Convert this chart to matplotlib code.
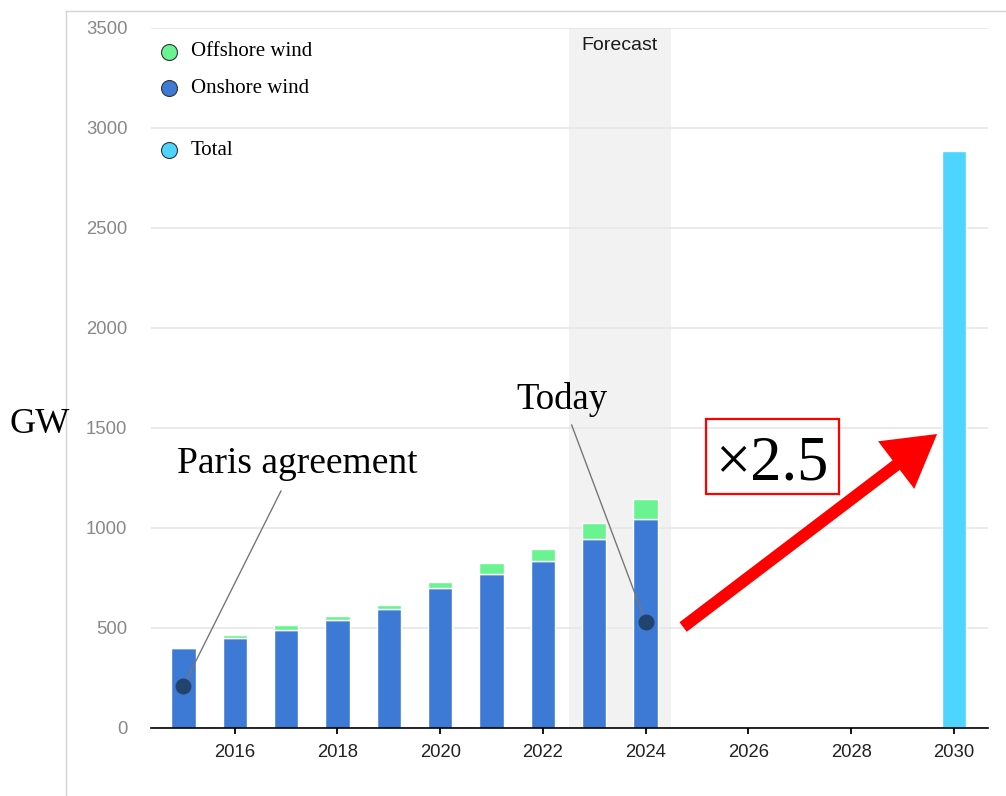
import matplotlib
matplotlib.use("Agg")
import matplotlib.pyplot as plt
from matplotlib.lines import Line2D
from matplotlib.patches import Rectangle, FancyArrowPatch

# data (GW)
years = [2015, 2016, 2017, 2018, 2019, 2020, 2021, 2022, 2023, 2024]
onshore = [401, 450, 492, 538, 593, 698, 772, 833, 945, 1047]
offshore = [0, 17, 23, 24, 24, 32, 53, 62, 80, 98]
total_year = [2030]
total_value = [2885]
xticks = [2016, 2018, 2020, 2022, 2024, 2026, 2028, 2030]
yticks = [0, 500, 1000, 1500, 2000, 2500, 3000, 3500]

c_on = '#3d7ad5'
c_off = '#69f391'
c_tot = '#4dd4ff'
c_dot = '#23436f'

fig = plt.figure(figsize=(10.06, 7.96), dpi=100)
W, H = 1006, 796
ax = fig.add_axes([151 / W, 1 - 728 / H, (987.7 - 151) / W, 700 / H])

ax.set_xlim(2014.37, 2030.66)
ax.set_ylim(0, 3500)

# forecast band
ax.axvspan(2022.5, 2024.5, color='#f2f2f2', zorder=0, lw=0)
ax.text(2023.5, 3412, 'Forecast', ha='center', va='center', fontsize=14,
        family='Liberation Sans', color='#1a1a1a')

bw = 0.475
ax.bar(years, onshore, width=bw, color=c_on, edgecolor='white', lw=1, zorder=2)
ax.bar(years, offshore, width=bw, bottom=onshore, color=c_off, edgecolor='white', lw=1, zorder=2)
ax.bar(total_year, total_value, width=bw, color=c_tot, edgecolor='white', lw=1, zorder=2)

# axes styling
ax.set_yticks(yticks)
ax.set_xticks(xticks)
ax.grid(axis='y', color='#e6e6e6', lw=1.2, zorder=1)
ax.set_axisbelow(True)
for s in ['left', 'right', 'top']:
    ax.spines[s].set_visible(False)
ax.spines['bottom'].set_color('black')
ax.spines['bottom'].set_linewidth(1.2)
ax.spines['bottom'].set_zorder(3)
ax.tick_params(axis='y', length=0, pad=17, labelsize=13.3, labelcolor='#888888')
ax.tick_params(axis='x', length=4, width=1.3, pad=7.5, labelsize=13.3, labelcolor='#222222')
for lab in ax.get_xticklabels() + ax.get_yticklabels():
    lab.set_family('Liberation Sans')

# legend drawn by hand
leg = [('Offshore wind', c_off, 0.9661), ('Onshore wind', c_on, 0.9139), ('Total', c_tot, 0.8257)]
for name, col, yy in leg:
    ax.plot([0.0215], [yy], 'o', ms=11.5, mfc=col, mec='#333333', mew=0.8,
            transform=ax.transAxes, clip_on=False, zorder=5)
    ax.text(0.0478, yy, name, transform=ax.transAxes, va='center', ha='left',
            fontsize=15, family='Liberation Serif', color='black')

# annotations
ax.plot([2016.9, 2015.0], [1185, 210], color='#777777', lw=1, zorder=4)
ax.plot([2015.0], [210], 'o', ms=10.5, color=c_dot, zorder=5)
ax.text(2017.21, 1275, 'Paris agreement', ha='center', va='baseline', fontsize=27,
        family='Liberation Serif', color='black')

ax.plot([2022.56, 2024.0], [1515, 530], color='#777777', lw=1, zorder=4)
ax.plot([2024.0], [530], 'o', ms=10.5, color=c_dot, zorder=5)
ax.text(2022.38, 1593, 'Today', ha='center', va='baseline', fontsize=26.5,
        family='Liberation Serif', color='black')

arrow = FancyArrowPatch((2024.73, 505), (2029.675, 1470),
                        arrowstyle='simple,head_length=37,head_width=43,tail_width=8.6',
                        mutation_scale=1, shrinkA=0, shrinkB=0, color='#ff0000', lw=0, zorder=6)
ax.add_patch(arrow)

ax.add_patch(Rectangle((2025.17, 1168.5), 2027.76 - 2025.17, 1543.5 - 1168.5,
                       fill=False, edgecolor='#ff0000', lw=1.6, zorder=6))
ax.text(2026.45, 1240, '\u00d72.5', ha='center', va='baseline', fontsize=45,
        family='Liberation Serif', color='black', zorder=7)

fig.text(40 / W, 1 - 433 / H, 'GW', ha='center', va='baseline', fontsize=26,
         family='Liberation Serif', color='black')

# outer frame lines (top and left)
fig.add_artist(Line2D([66 / W, 66 / W], [0, 1 - 11.3 / H], color='#d4d4d4', lw=1))
fig.add_artist(Line2D([66 / W, 1], [1 - 11.3 / H, 1 - 11.3 / H], color='#d4d4d4', lw=1))

fig.savefig('out.png', dpi=100)
